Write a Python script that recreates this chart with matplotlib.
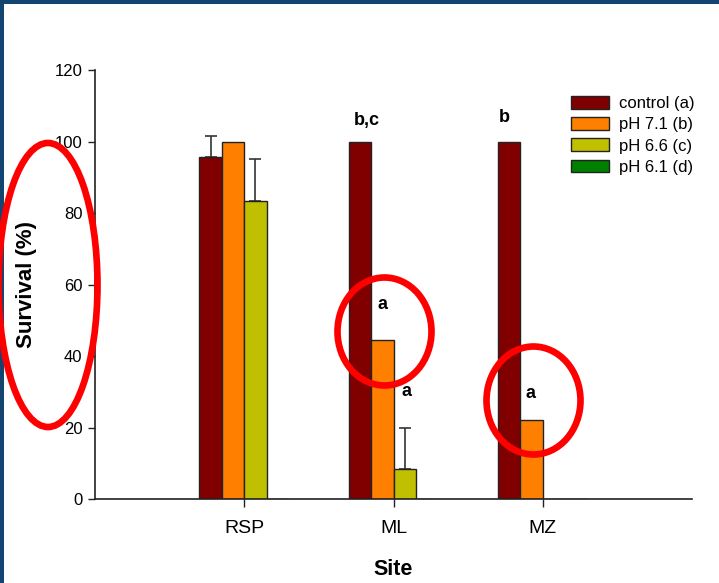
import numpy as np
import matplotlib
matplotlib.use("Agg")
import matplotlib.pyplot as plt
from matplotlib.patches import Rectangle, Ellipse

plt.rcParams['font.family'] = ['Liberation Sans', 'DejaVu Sans']

sites = ["RSP", "ML", "MZ"]
series = ["control (a)", "pH 7.1 (b)", "pH 6.6 (c)", "pH 6.1 (d)"]
control = [95.8, 100.0, 100.0]
ph71 = [100.0, 44.5, 22.2]
ph66 = [83.4, 8.3, 0.0]
ph61 = [0.0, 0.0, 0.0]
control_err = [5.8, 0.0, 0.0]
ph71_err = [0.0, 0.0, 0.0]
ph66_err = [11.7, 11.6, 0.0]
ph61_err = [0.0, 0.0, 0.0]
yticks = [0, 20, 40, 60, 80, 100, 120]

# significance letters: (site index, series index, text, y, x nudge)
letters = [(1, 0, "b,c", 106.0, 0.045), (2, 0, "b", 106.8, -0.03),
           (1, 1, "a", 54.3, 0.0), (1, 2, "a", 30.2, 0.01), (2, 1, "a", 29.5, -0.005)]

colors = ["#800000", "#ff8000", "#c0c000", "#008000"]
values = [control, ph71, ph66, ph61]
errs = [control_err, ph71_err, ph66_err, ph61_err]

W, H = 719, 583
fig = plt.figure(figsize=(W / 100, H / 100), dpi=100)
fig.patch.set_facecolor("#134570")
fig.patches.append(Rectangle((4 / W, 0), 1 - 4 / W, 1 - 4 / H, transform=fig.transFigure,
                             facecolor="white", edgecolor="none", zorder=-10))

ax = fig.add_axes([95 / W, 1 - 499 / H, (692 - 95) / W, (499 - 70) / H])
ax.set_facecolor("none")

x = np.arange(1, len(sites) + 1)
w = 0.15
for i, (vals, er, c, lab) in enumerate(zip(values, errs, colors, series)):
    pos = x + (i - 1.5) * w
    ax.bar(pos, vals, width=w, color=c, edgecolor="#222222", linewidth=1.0,
           label=lab, zorder=2)
    er = np.array(er)
    mask = er > 0
    if mask.any():
        ax.errorbar(pos[mask], np.array(vals)[mask],
                    yerr=[np.zeros(mask.sum()), er[mask]], fmt="none",
                    ecolor="#333333", elinewidth=1.2, capsize=4.6, capthick=1.2,
                    zorder=1)

for si, ser, txt, yy, dx in letters:
    xx = x[si] + (ser - 1.5) * w + dx
    ax.text(xx, yy, txt, ha="center", va="center", fontsize=13,
            fontweight="bold", color="black")

ax.set_xlim(0, 4)
ax.set_ylim(0, 120)
ax.set_xticks(x)
ax.set_xticklabels(sites, fontsize=14)
ax.set_yticks(yticks)
ax.set_yticklabels([str(t) for t in yticks], fontsize=12)
for s in ["top", "right"]:
    ax.spines[s].set_visible(False)
for s in ["left", "bottom"]:
    ax.spines[s].set_linewidth(1.2)
    ax.spines[s].set_color("#222222")
ax.tick_params(axis="y", direction="out", length=5, width=1, pad=4, colors="#222222",
               labelcolor="black")
ax.tick_params(axis="x", direction="out", length=6, width=1, pad=9, colors="#222222",
               labelcolor="black")
ax.set_ylabel("Survival (%)", fontsize=16, fontweight="bold", labelpad=13)
ax.set_xlabel("Site", fontsize=15.5, fontweight="bold", labelpad=16)

leg = ax.legend(loc="upper left", bbox_to_anchor=(571 / W, 1 - 96 / H),
                bbox_transform=fig.transFigure, frameon=False, fontsize=12,
                handlelength=2.3, handleheight=0.8, handletextpad=0.6,
                labelspacing=0.36, borderpad=0, borderaxespad=0)

# red hand-drawn ellipses
for cx, cy, ew, eh in [(48, 285, 99, 284), (384.5, 331.5, 94, 108), (533.5, 400.5, 94, 108)]:
    fig.patches.append(Ellipse((cx / W, 1 - cy / H), ew / W, eh / H, transform=fig.transFigure,
                               facecolor="none", edgecolor="#ff0000", linewidth=4.8, zorder=10))

fig.savefig("out.png", dpi=100, facecolor=fig.get_facecolor())
